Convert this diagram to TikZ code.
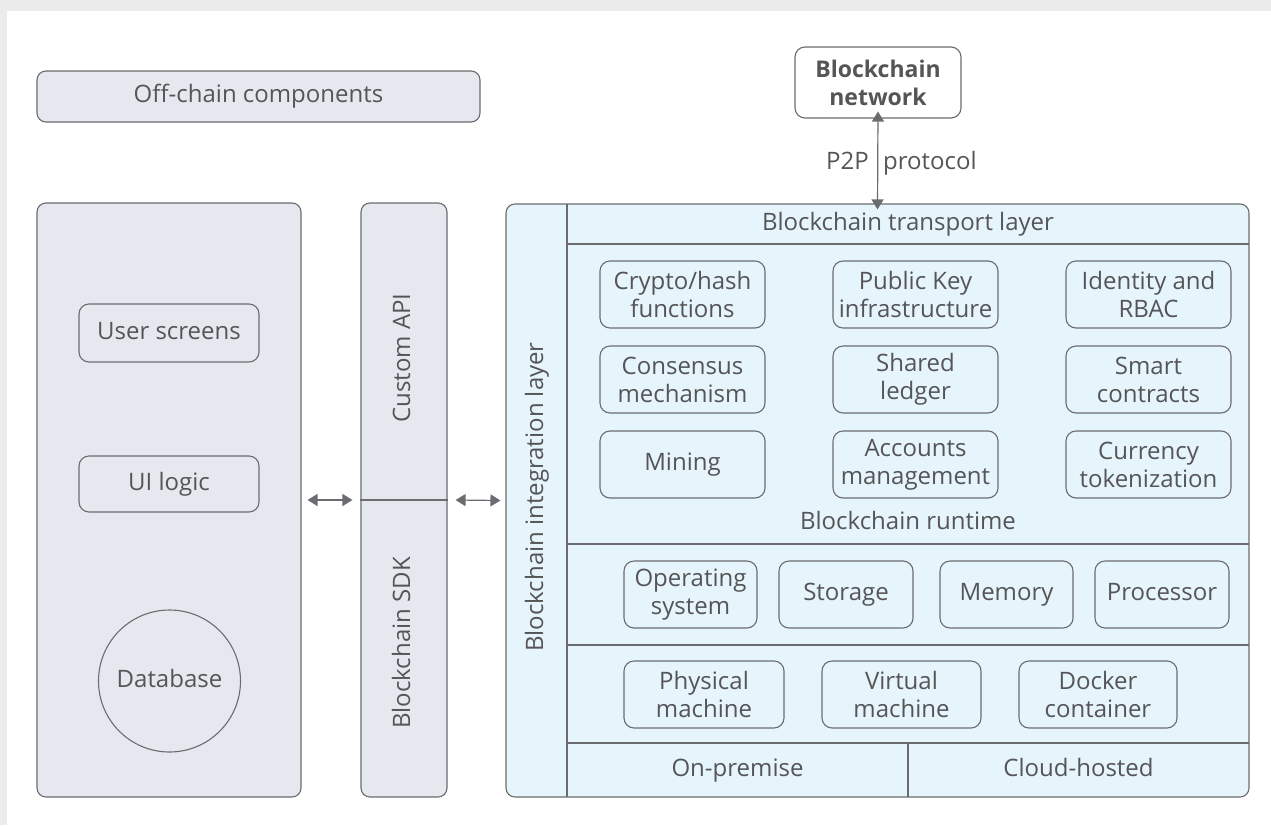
\documentclass[tikz,border=0pt]{standalone}
\usepackage{fontspec}
\setmainfont{Open Sans}
\usetikzlibrary{arrows.meta}
\definecolor{bgc}{HTML}{EBEBEB}
\definecolor{linec}{HTML}{6B6C6F}
\definecolor{txtc}{HTML}{555558}
\definecolor{leftfill}{HTML}{E6E8F0}
\definecolor{rightfill}{HTML}{E6F4FB}
\tikzset{
  base/.style={draw=linec, line width=1.1pt, text=txtc, inner sep=0pt, align=center,
    font=\fontsize{24}{28}\selectfont},
  panel/.style={base, rounded corners=9pt},
  graypanel/.style={panel, fill=leftfill},
  bluepanel/.style={panel, fill=rightfill},
  smallbox/.style={base, rounded corners=10pt, fill=rightfill, minimum height=67pt},
  graybox/.style={base, rounded corners=10pt, fill=leftfill},
  oneline/.style={text height=17pt, text depth=5pt},
  lbl/.style={text=txtc, inner sep=0pt, align=center, font=\fontsize{24}{28}\selectfont, oneline},
  sep/.style={draw=linec, line width=1.1pt},
  dblarrow/.style={draw=linec, line width=1.2pt, {Triangle[length=10pt,width=12pt]}-{Triangle[length=10pt,width=12pt]}, fill=linec}
}
\begin{document}
\begin{tikzpicture}[x=1pt,y=-1pt]
\fill[bgc] (0,0) rectangle (1271,825);
\fill[white] (7,11) rectangle (1271,825);
\useasboundingbox (0,0) rectangle (1271,825);

% off-chain
\node[graypanel, oneline, minimum width=443pt, minimum height=51pt] (offchain) at (258.5,96.5) {Off-chain components};

% left panel
\node[graypanel, minimum width=264pt, minimum height=594pt] (left) at (169,500) {};
\node[graybox, oneline, minimum width=180pt, minimum height=58pt] (user) at (169,333) {User screens};
\node[graybox, oneline, minimum width=180pt, minimum height=56pt] (uilogic) at (169,484) {UI logic};
\node[base, oneline, circle, fill=leftfill, minimum size=142pt] (db) at (169.5,681) {Database};

% API column
\node[graypanel, minimum width=86pt, minimum height=594pt] (api) at (404,500) {};
\draw[sep] (api.west) -- (api.east);
\node[lbl, rotate=90] (customapi) at (404,358) {Custom API};
\node[lbl, rotate=90] (sdk) at (404,643) {Blockchain SDK};

% right panel
\node[bluepanel, minimum width=743pt, minimum height=593pt] (right) at (877.5,500.5) {};
\coordinate (divtop) at (567,204);
\coordinate (divbot) at (567,797);
\draw[sep] (divtop) -- (divbot);
\node[lbl, rotate=90] (integration) at (537,497) {Blockchain integration layer};

\coordinate (t1) at (567,244); \coordinate (t2) at (1249,244);
\draw[sep] (t1) -- (t2);
\node[lbl] (transport) at (908,224) {Blockchain transport layer};

\coordinate (r1) at (567,544); \coordinate (r2) at (1249,544);
\draw[sep] (r1) -- (r2);
\node[lbl] (runtime) at (908,523) {Blockchain runtime};

\coordinate (o1) at (567,645); \coordinate (o2) at (1249,645);
\draw[sep] (o1) -- (o2);
\coordinate (h1) at (567,743); \coordinate (h2) at (1249,743);
\draw[sep] (h1) -- (h2);
\coordinate (v1) at (908,743); \coordinate (v2) at (908,797);
\draw[sep] (v1) -- (v2);
\node[lbl] (onprem) at (737.5,770) {On-premise};
\node[lbl] (cloud) at (1078.5,770) {Cloud-hosted};

% runtime boxes
\node[smallbox, minimum width=165pt] (crypto) at (682.5,294.5) {Crypto/hash\\functions};
\node[smallbox, minimum width=165pt] (pki) at (915.5,294.5) {Public Key\\infrastructure};
\node[smallbox, minimum width=165pt] (ident) at (1148.5,294.5) {Identity and\\RBAC};
\node[smallbox, minimum width=165pt] (consensus) at (682.5,379.5) {Consensus\\mechanism};
\node[smallbox, minimum width=165pt] (ledger) at (915.5,379.5) {Shared\\ledger};
\node[smallbox, minimum width=165pt] (smart) at (1148.5,379.5) {Smart\\contracts};
\node[smallbox, oneline, minimum width=165pt] (mining) at (682.5,464.5) {Mining};
\node[smallbox, minimum width=165pt] (accounts) at (915.5,464.5) {Accounts\\management};
\node[smallbox, minimum width=165pt] (currency) at (1148.5,464.5) {Currency\\tokenization};

% OS row
\node[smallbox, minimum width=133pt] (os) at (690.5,594.5) {Operating\\system};
\node[smallbox, oneline, minimum width=134pt] (storage) at (846,594.5) {Storage};
\node[smallbox, oneline, minimum width=133pt] (memory) at (1006.5,594.5) {Memory};
\node[smallbox, oneline, minimum width=134pt] (proc) at (1162,594.5) {Processor};

% HW row
\node[smallbox, minimum width=160pt] (phys) at (704,694.5) {Physical\\machine};
\node[smallbox, minimum width=159pt] (virt) at (901.5,694.5) {Virtual\\machine};
\node[smallbox, minimum width=158pt] (docker) at (1098,694.5) {Docker\\container};

% network
\node[base, rounded corners=10pt, fill=white, minimum width=166pt, minimum height=71pt,
  font=\fontsize{23}{28}\selectfont\bfseries] (network) at (878,82.5) {Blockchain\\network};

% arrows
\draw[dblarrow] ([yshift=7pt]network.south) -- ([yshift=-6pt]right.north);
\node[lbl, anchor=east] (p2p) at (869,163) {P2P};
\node[lbl, anchor=west] (protocol) at (883,163) {protocol};
\draw[dblarrow] ([xshift=6pt]left.east) -- ([xshift=-8pt]api.west);
\draw[dblarrow] ([xshift=8pt]api.east) -- ([xshift=-5pt]right.west);
\end{tikzpicture}
\end{document}
